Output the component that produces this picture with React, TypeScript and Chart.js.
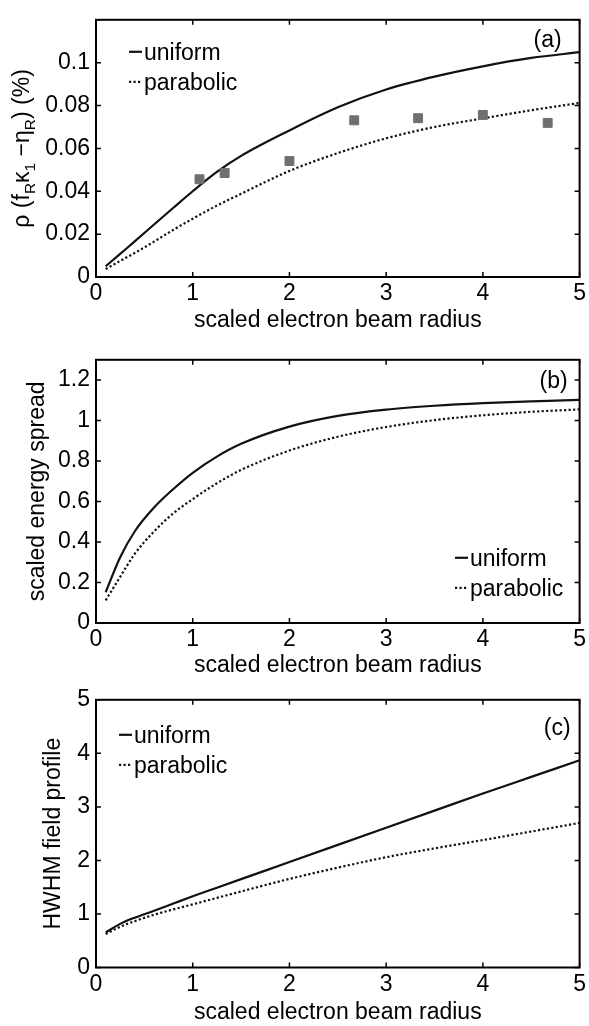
import React, { useEffect, useRef } from 'react';
import { Chart, registerables } from 'chart.js';

Chart.register(...registerables);

const FONT_FAMILY = '"Liberation Sans", Arial, Helvetica, sans-serif';
const FS = 23;

// ---------- data ----------
const xTickValues = [0, 1, 2, 3, 4, 5];
const xTickLabels = ['0', '1', '2', '3', '4', '5'];
const radius = [0.1, 0.25, 0.4, 0.6, 0.8, 1, 1.25, 1.5, 2, 2.5, 3, 3.5, 4, 4.5, 5];
const legendLabels = ['uniform', 'parabolic'];

// (a)
const uniformA = [0.005, 0.0108, 0.0166, 0.0245, 0.0323, 0.0400, 0.0490, 0.0565, 0.0684, 0.0792, 0.0875, 0.0935, 0.0983, 0.1022, 0.1049];
const parabolicA = [0.0037, 0.0075, 0.0112, 0.0165, 0.0220, 0.0272, 0.0333, 0.0388, 0.0495, 0.0578, 0.0647, 0.0700, 0.0740, 0.0778, 0.0812];
const measuredRadius = [1.07, 1.33, 2, 2.67, 3.33, 4, 4.67];
const measuredA = [0.0456, 0.0485, 0.0541, 0.0731, 0.0741, 0.0756, 0.0719];
const yTicksA = [0, 0.02, 0.04, 0.06, 0.08, 0.1, 0.12];
const yLabelsA = ['0', '0.02', '0.04', '0.06', '0.08', '0.1', ''];

// (b)
const uniformB = [0.152, 0.325, 0.452, 0.570, 0.662, 0.742, 0.822, 0.885, 0.970, 1.023, 1.054, 1.073, 1.086, 1.095, 1.102];
const parabolicB = [0.112, 0.228, 0.341, 0.452, 0.542, 0.612, 0.690, 0.756, 0.852, 0.920, 0.968, 1.002, 1.026, 1.043, 1.055];
const yTicksB = [0, 0.2, 0.4, 0.6, 0.8, 1, 1.2];
const yLabelsB = ['0', '0.2', '0.4', '0.6', '0.8', '1', '1.2'];

// (c)
const uniformC = [0.656, 0.815, 0.93, 1.06, 1.195, 1.33, 1.49, 1.65, 1.97, 2.29, 2.61, 2.93, 3.25, 3.56, 3.87];
const parabolicC = [0.626, 0.76, 0.865, 0.985, 1.085, 1.18, 1.30, 1.42, 1.655, 1.865, 2.06, 2.225, 2.38, 2.54, 2.70];
const yTicksC = [0, 1, 2, 3, 4, 5];
const yLabelsC = ['0', '1', '2', '3', '4', '5'];

const xTitle = 'scaled electron beam radius';
const yTitleA = [
  { t: 'ρ (f' }, { t: 'R', sub: true }, { t: 'κ' }, { t: '1', sub: true },
  { t: ' −η' }, { t: 'R', sub: true }, { t: ') (%)' },
];
const yTitleB = [{ t: 'scaled energy spread' }];
const yTitleC = [{ t: 'HWHM field profile' }];

// ---------- plugins ----------
const frameTicksPlugin = {
  id: 'frameTicks',
  afterDatasetsDraw(chart: any) {
    const { ctx, chartArea, scales } = chart;
    const { left, right, top, bottom } = chartArea;
    const x = scales.x, y = scales.y;
    const len = 5;
    ctx.save();
    ctx.strokeStyle = '#000';
    ctx.lineWidth = 1.5;
    ctx.beginPath();
    x.ticks.forEach((t: any) => {
      const px = x.getPixelForValue(t.value);
      ctx.moveTo(px, bottom); ctx.lineTo(px, bottom - len);
      ctx.moveTo(px, top); ctx.lineTo(px, top + len);
    });
    y.ticks.forEach((t: any) => {
      const py = y.getPixelForValue(t.value);
      ctx.moveTo(left, py); ctx.lineTo(left + len, py);
      ctx.moveTo(right, py); ctx.lineTo(right - len, py);
    });
    ctx.stroke();
    ctx.lineWidth = 2;
    ctx.strokeRect(left, top, right - left, bottom - top);
    ctx.restore();
  },
};

const legendPlugin = {
  id: 'mLegend',
  afterDatasetsDraw(chart: any, _args: any, opts: any) {
    const { ctx, chartArea } = chart;
    const x0 = chartArea.left + opts.dx;
    let yRow = chartArea.top + opts.dy;
    ctx.save();
    ctx.font = `${FS}px ${FONT_FAMILY}`;
    ctx.fillStyle = '#000';
    ctx.textAlign = 'left';
    ctx.textBaseline = 'alphabetic';
    chart.data.datasets.forEach((ds: any) => {
      if (!ds.inLegend) return;
      ctx.beginPath();
      ctx.strokeStyle = ds.borderColor;
      ctx.lineWidth = ds.borderWidth;
      ctx.setLineDash(ds.borderDash || []);
      ctx.moveTo(x0, yRow);
      ctx.lineTo(x0 + 13, yRow);
      ctx.stroke();
      ctx.setLineDash([]);
      ctx.fillText(ds.label, x0 + 15, yRow + 8);
      yRow += opts.gap;
    });
    ctx.restore();
  },
};

const yTitlePlugin = {
  id: 'yTitle',
  afterDraw(chart: any, _args: any, opts: any) {
    const { ctx, chartArea } = chart;
    const main = `${FS}px ${FONT_FAMILY}`;
    const sub = `15.5px ${FONT_FAMILY}`;
    const segs = opts.segments as { t: string; sub?: boolean }[];
    ctx.save();
    let total = 0;
    const widths = segs.map((s) => {
      ctx.font = s.sub ? sub : main;
      const w = ctx.measureText(s.t).width;
      total += w;
      return w;
    });
    ctx.translate(opts.baselineX, (chartArea.top + chartArea.bottom) / 2);
    ctx.rotate(-Math.PI / 2);
    ctx.fillStyle = '#000';
    ctx.textAlign = 'left';
    ctx.textBaseline = 'alphabetic';
    let cx = -total / 2;
    segs.forEach((s, i) => {
      ctx.font = s.sub ? sub : main;
      ctx.fillText(s.t, cx, s.sub ? 6 : 0);
      cx += widths[i];
    });
    ctx.restore();
  },
};

const tagPlugin = {
  id: 'tag',
  afterDraw(chart: any, _args: any, opts: any) {
    const { ctx, chartArea } = chart;
    ctx.save();
    ctx.font = `${FS}px ${FONT_FAMILY}`;
    ctx.fillStyle = '#000';
    ctx.textAlign = 'right';
    ctx.textBaseline = 'middle';
    ctx.fillText(opts.text, chartArea.right - opts.dxRight, chartArea.top + opts.dy);
    ctx.restore();
  },
};

// ---------- panel configs ----------
type Panel = {
  height: number; padTop: number; xAxisHeight: number; xTitlePad: number;
  yMax: number; yTicks: number[]; yLabels: string[];
  uniform: number[]; parabolic: number[]; measured?: number[];
  yTitle: { t: string; sub?: boolean }[]; yTitleBaseline: number;
  tag: string; tagDx: number; tagDy: number; legendDx: number; legendDy: number;
};

const panels: Panel[] = [
  {
    height: 340, padTop: 4, xAxisHeight: 63, xTitlePad: 6,
    yMax: 0.12, yTicks: yTicksA, yLabels: yLabelsA,
    uniform: uniformA, parabolic: parabolicA, measured: measuredA,
    yTitle: yTitleA, yTitleBaseline: 29,
    tag: '(a)', tagDx: 18, tagDy: 21, legendDx: 33, legendDy: 32,
  },
  {
    height: 340, padTop: 10, xAxisHeight: 57, xTitlePad: 1,
    yMax: 1.3, yTicks: yTicksB, yLabels: yLabelsB,
    uniform: uniformB, parabolic: parabolicB,
    yTitle: yTitleB, yTitleBaseline: 44,
    tag: '(b)', tagDx: 12, tagDy: 22, legendDx: 359, legendDy: 198,
  },
  {
    height: 346, padTop: 15, xAxisHeight: 58.5, xTitlePad: 0,
    yMax: 5, yTicks: yTicksC, yLabels: yLabelsC,
    uniform: uniformC, parabolic: parabolicC,
    yTitle: yTitleC, yTitleBaseline: 60,
    tag: '(c)', tagDx: 9, tagDy: 29, legendDx: 23, legendDy: 35,
  },
];

function PanelChart({ p }: { p: Panel }) {
  const ref = useRef<HTMLCanvasElement>(null);
  useEffect(() => {
    const datasets: any[] = [];
    if (p.measured) {
      datasets.push({
        label: 'measured',
        data: measuredRadius.map((x, i) => ({ x, y: p.measured![i] })),
        showLine: false,
        pointStyle: 'rect',
        pointRadius: 6.3,
        pointHoverRadius: 6.3,
        backgroundColor: '#6f6f6f',
        borderColor: '#6f6f6f',
        borderWidth: 1,
        inLegend: false,
      });
    }
    datasets.push({
      label: legendLabels[0],
      data: radius.map((x, i) => ({ x, y: p.uniform[i] })),
      showLine: true,
      pointRadius: 0,
      borderColor: '#111',
      borderWidth: 2.2,
      cubicInterpolationMode: 'monotone',
      inLegend: true,
    });
    datasets.push({
      label: legendLabels[1],
      data: radius.map((x, i) => ({ x, y: p.parabolic[i] })),
      showLine: true,
      pointRadius: 0,
      borderColor: '#111',
      borderWidth: 2.2,
      borderDash: [2.2, 2.3],
      cubicInterpolationMode: 'monotone',
      inLegend: true,
    });

    const chart = new Chart(ref.current as HTMLCanvasElement, {
      type: 'scatter',
      data: { datasets },
      plugins: [frameTicksPlugin, legendPlugin, yTitlePlugin, tagPlugin],
      options: {
        animation: false,
        responsive: false,
        devicePixelRatio: 1,
        layout: { padding: { left: 0, right: 6, top: p.padTop, bottom: 0 } },
        plugins: {
          legend: { display: false },
          tooltip: { enabled: false },
          mLegend: { dx: p.legendDx, dy: p.legendDy, gap: 30 },
          yTitle: { segments: p.yTitle, baselineX: p.yTitleBaseline },
          tag: { text: p.tag, dxRight: p.tagDx, dy: p.tagDy },
        } as any,
        scales: {
          x: {
            type: 'linear',
            min: 0,
            max: 5,
            afterBuildTicks: (s: any) => { s.ticks = xTickValues.map((v) => ({ value: v })); },
            afterFit: (s: any) => { s.height = p.xAxisHeight; },
            grid: { display: false, drawTicks: false },
            border: { display: false },
            ticks: {
              autoSkip: false,
              maxRotation: 0,
              padding: 3,
              color: '#000',
              font: { family: FONT_FAMILY, size: FS },
              callback: (_v: any, i: number) => xTickLabels[i],
            },
            title: {
              display: true,
              text: xTitle,
              color: '#000',
              font: { family: FONT_FAMILY, size: FS },
              padding: { top: 0, bottom: p.xTitlePad },
            },
          },
          y: {
            type: 'linear',
            min: 0,
            max: p.yMax,
            afterBuildTicks: (s: any) => { s.ticks = p.yTicks.map((v) => ({ value: v })); },
            afterFit: (s: any) => { s.width = 96; },
            grid: { display: false, drawTicks: false },
            border: { display: false },
            ticks: {
              autoSkip: false,
              padding: 6,
              color: '#000',
              font: { family: FONT_FAMILY, size: FS },
              callback: (_v: any, i: number) => p.yLabels[i],
            },
          },
        },
      } as any,
    });
    return () => chart.destroy();
  }, [p]);
  return (
    <canvas
      ref={ref}
      width={589}
      height={p.height}
      style={{ display: 'block', width: 589, height: p.height }}
    />
  );
}

export default function App() {
  return (
    <div style={{ position: 'absolute', left: 0, top: 0, width: 589, height: 1026, background: '#fff' }}>
      {panels.map((p, i) => (
        <PanelChart key={i} p={p} />
      ))}
    </div>
  );
}
